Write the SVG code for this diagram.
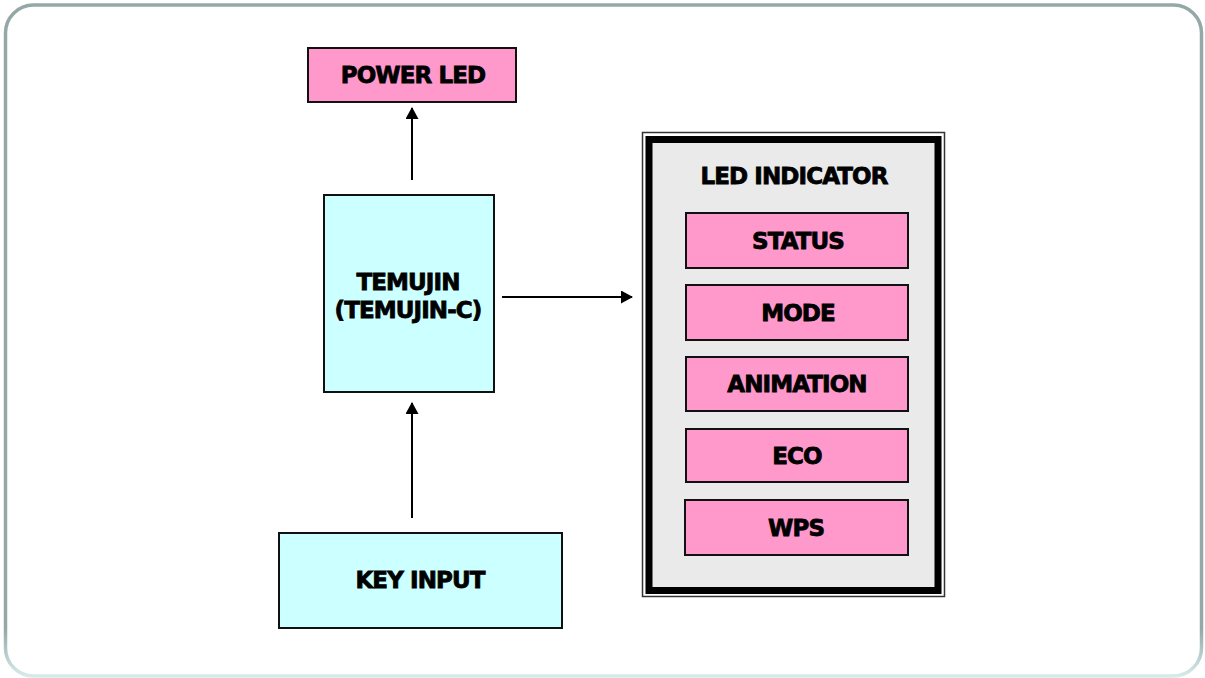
<svg xmlns="http://www.w3.org/2000/svg" width="1205" height="678" viewBox="0 0 1205 678">
  <style>
    .lbl { font-family: "DejaVu Sans", Verdana, sans-serif; font-weight: bold; font-size: 23px; letter-spacing: -0.9px; fill: #000; stroke: #000; stroke-width: 0.8px; text-anchor: middle; dominant-baseline: central; }
    .pink { fill: #ff99cc; stroke: #111; stroke-width: 2; }
    .cyan { fill: #ccffff; stroke: #111; stroke-width: 2; }
    .conn { stroke: #000; stroke-width: 2; fill: none; }
  </style>
  <defs>
    <marker id="arrow" markerWidth="14" markerHeight="14" refX="11" refY="6.5" orient="auto" markerUnits="userSpaceOnUse">
      <path d="M0,0 L12,6.5 L0,13 Z" fill="#000"/>
    </marker>
    <linearGradient id="frameGrad" x1="0" y1="0" x2="0" y2="1">
      <stop offset="0" stop-color="#94a8a8"/>
      <stop offset="0.93" stop-color="#94a8a8"/>
      <stop offset="1" stop-color="#d6eaea"/>
    </linearGradient>
  </defs>
  <rect width="1205" height="678" fill="#ffffff"/>
  <rect x="5.5" y="5" width="1196" height="671" rx="28" ry="28" fill="#ffffff" stroke="url(#frameGrad)" stroke-width="3.5"/>

  <g id="connectors">
    <line class="conn" x1="412" y1="180" x2="412" y2="108" marker-end="url(#arrow)"/>
    <line class="conn" x1="502" y1="297" x2="632" y2="297" marker-end="url(#arrow)"/>
    <line class="conn" x1="412" y1="518" x2="412" y2="403" marker-end="url(#arrow)"/>
  </g>

  <g id="power-led">
    <rect class="pink" x="308" y="48" width="208" height="54"/>
    <text class="lbl" x="413" y="75">POWER LED</text>
  </g>

  <g id="temujin">
    <rect class="cyan" x="324" y="195" width="170" height="197"/>
    <text class="lbl" x="408" y="282">TEMUJIN</text>
    <text class="lbl" x="408" y="310">(TEMUJIN-C)</text>
  </g>

  <g id="key-input">
    <rect class="cyan" x="279" y="533" width="283" height="95"/>
    <text class="lbl" x="420" y="580">KEY INPUT</text>
  </g>

  <g id="led-indicator">
    <rect x="642.5" y="132.5" width="302" height="464" fill="#ffffff" stroke="#333" stroke-width="1.5"/>
    <rect x="649" y="139.5" width="289" height="451" fill="#eaeaea" stroke="#000" stroke-width="7"/>
    <text class="lbl" x="794" y="176">LED INDICATOR</text>
  </g>

  <g id="status">
    <rect class="pink" x="686" y="213" width="222" height="55"/>
    <text class="lbl" x="798" y="241">STATUS</text>
  </g>
  <g id="mode">
    <rect class="pink" x="686" y="285" width="222" height="55"/>
    <text class="lbl" x="798" y="313">MODE</text>
  </g>
  <g id="animation">
    <rect class="pink" x="686" y="357" width="222" height="54"/>
    <text class="lbl" x="797" y="384">ANIMATION</text>
  </g>
  <g id="eco">
    <rect class="pink" x="686" y="429" width="222" height="53"/>
    <text class="lbl" x="797" y="456">ECO</text>
  </g>
  <g id="wps">
    <rect class="pink" x="685" y="500" width="223" height="55"/>
    <text class="lbl" x="796" y="528">WPS</text>
  </g>
</svg>
